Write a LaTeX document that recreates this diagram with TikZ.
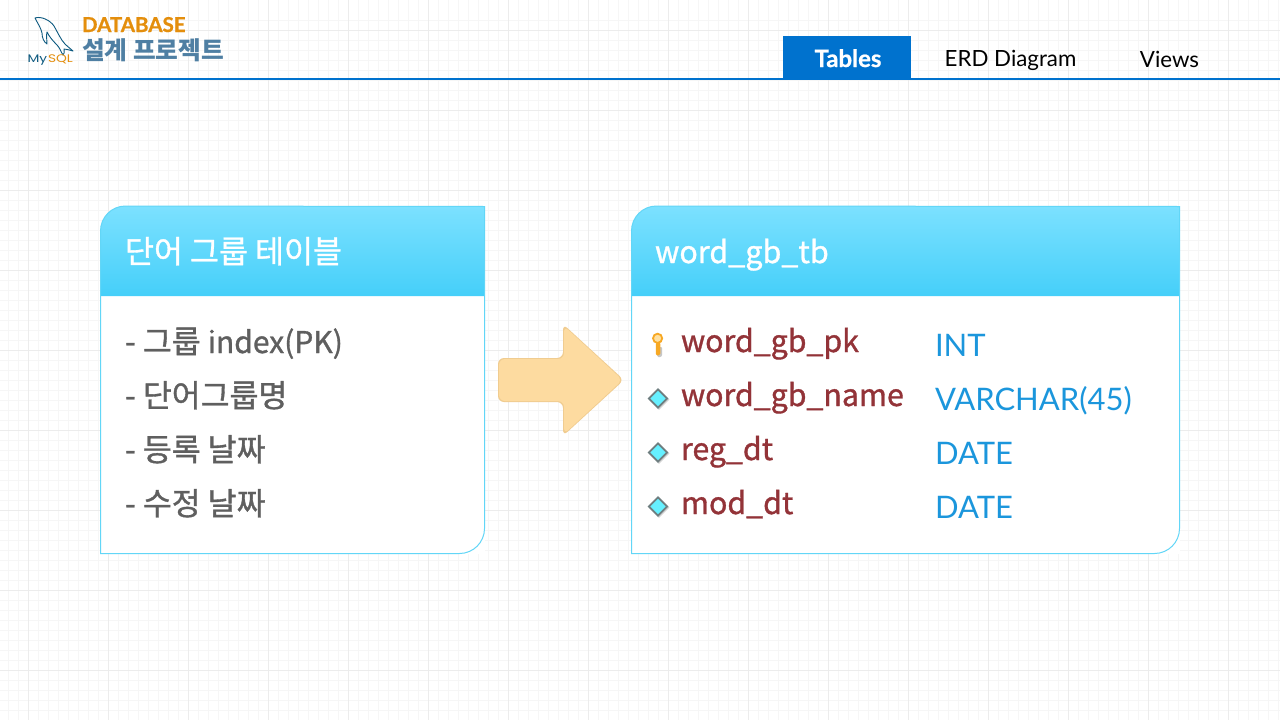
\documentclass[tikz,border=0pt]{standalone}
\usepackage{fontspec}
\setmainfont[FakeBold=1.1]{Noto Sans CJK KR}
\newfontfamily\brandfont{Noto Sans CJK KR}
\newfontfamily\tabfont{Lato}
\newfontfamily\tabbold[FakeBold=0.8]{Lato Bold}
\newfontfamily\logofont[FakeStretch=1.25]{Poppins}
\definecolor{gridminor}{HTML}{F6F6F6}
\usetikzlibrary{shapes.geometric}
\definecolor{gridmajor}{HTML}{ECECEC}
\definecolor{navblue}{HTML}{0072CE}
\definecolor{cardedge}{HTML}{62D6F7}
\definecolor{headtop}{HTML}{7CE1FF}
\definecolor{headbot}{HTML}{45CFF9}
\definecolor{arrowfill}{HTML}{FDDBA0}
\definecolor{arrowedge}{HTML}{F0CC90}
\definecolor{bodytext}{HTML}{5F5F5F}
\definecolor{fieldtext}{HTML}{933338}
\definecolor{typetext}{HTML}{1B96DC}
\definecolor{logoorange}{HTML}{E48E0C}
\definecolor{logoblue}{HTML}{4F7FA3}
\definecolor{dolphin}{HTML}{0E5A80}
\definecolor{keyorange}{HTML}{F7A823}
\definecolor{keylight}{HTML}{FFE0A0}
\definecolor{diamfill}{HTML}{66F0FF}
\definecolor{diamedge}{HTML}{6E7E80}
\tikzset{
  x=1pt,y=-1pt,
  lbl/.style={anchor=base west,inner sep=0pt,outer sep=0pt},
  rowtext/.style={lbl,text=bodytext,font=\fontsize{31.4}{31}\selectfont},
  headtext/.style={lbl,text=white,font=\fontsize{31.5}{31}\selectfont},
  fieldname/.style={lbl,text=fieldtext,font=\fontsize{30.3}{31}\selectfont},
  typename/.style={lbl,text=typetext,font=\tabfont\fontsize{31}{31}\selectfont},
  tablabel/.style={anchor=base,inner sep=0pt,text=black,font=\tabfont\fontsize{22.3}{24}\selectfont},
  attr/.style={diamond,aspect=1,minimum size=19pt,inner sep=0pt,draw=diamedge,line width=1.8pt,fill=diamfill},
  cardedgeline/.style={draw=cardedge,line width=1pt},
}
\begin{document}
\begin{tikzpicture}
\useasboundingbox (0,0) rectangle (1280,720);
\fill[white] (0,0) rectangle (1280,720);
% grid
\foreach \i in {-2,...,127}{\draw[gridminor,line width=1pt] ({28+10*\i},0) -- ({28+10*\i},720);}
\foreach \i in {-1,...,72}{\draw[gridminor,line width=1pt] (0,{30+10*\i}) -- (1280,{30+10*\i});}
\foreach \i in {0,...,15}{\draw[gridmajor,line width=1pt] ({28+80*\i},0) -- ({28+80*\i},720);}
\foreach \i in {0,...,8}{\draw[gridmajor,line width=1pt] (0,{30+80*\i}) -- (1280,{30+80*\i});}
% header
\fill[navblue] (0,78) rectangle (1280,80);
\node[fill=navblue,minimum width=128pt,minimum height=43pt,inner sep=0pt,anchor=north west] (tab1) at (783,36) {};
\node[tablabel,text=white,font=\tabbold\fontsize{24}{24}\selectfont] (tabA) at (848,67) {Tables};
\node[tablabel] (tabB) at (1010.5,66) {ERD Diagram};
\node[tablabel] (tabC) at (1169.5,67) {Views};
% logo
\draw[dolphin,line width=0.9pt,line join=round]
  (35,18) .. controls (41,16) and (50,20) .. (54,26)
  .. controls (58,33) and (61,40) .. (65,44)
  .. controls (68,47) and (71,49) .. (73,51)
  .. controls (69,50) and (66,49) .. (64,49)
  .. controls (65,52) and (64,54) .. (63,55)
  .. controls (61,52) and (60,48) .. (57,45)
  .. controls (52,40) and (49,36) .. (47,32)
  .. controls (46,36) and (47,40) .. (47,44)
  .. controls (44,42) and (42,38) .. (42,33)
  .. controls (41,28) and (38,24) .. (35,18) -- cycle;
\node[lbl,text=dolphin,font=\logofont\fontsize{11}{11}\selectfont] (logoA) at (27.5,62) {My};
\node[lbl,text=logoorange,font=\logofont\fontsize{11}{11}\selectfont] (logoB) at (48,62) {SQL};
\node[lbl,text=logoorange,font=\tabbold\fontsize{20.5}{22}\selectfont] (brandA) at (82,32) {DATABASE};
\node[lbl,text=logoblue,font=\brandfont\bfseries\fontsize{24.7}{25}\selectfont] (brandB) at (82,59) {설계 프로젝트};
% left card
\fill[white] (100.5,296) rectangle (484.5,553.5);
\path[top color=headtop,bottom color=headbot] (100.5,296) -- (100.5,231) arc[start angle=180,end angle=90,x radius=25,y radius=-25] -- (484.5,206) -- (484.5,296) -- cycle;
\draw[cardedgeline] (100.5,231) arc[start angle=180,end angle=90,x radius=25,y radius=-25] -- (484.5,206.5) -- (484.5,528.5) arc[start angle=0,end angle=-90,x radius=25,y radius=-25] -- (100.5,553.5) -- cycle;
\node[headtext] (leftTitle) at (125,263) {단어 그룹 테이블};
\node[rowtext] (l1) at (125,353) {- 그룹 {\fontsize{30}{31}\selectfont index(PK)}};
\node[rowtext] (l2) at (125,407) {- 단어그룹명};
\node[rowtext] (l3) at (125,461) {- 등록 날짜};
\node[rowtext] (l4) at (125,515) {- 수정 날짜};
% arrow
\fill[arrowedge,rounded corners=6pt] (498,358) -- (563,358) -- (563,324) -- (624,380) -- (563,436) -- (563,402) -- (498,402) -- cycle;
\fill[arrowfill,rounded corners=6pt] (499,359) -- (564,359) -- (564,326) -- (622.5,380) -- (564,434) -- (564,401) -- (499,401) -- cycle;
% right card
\fill[white] (631.5,296) rectangle (1179.5,553.5);
\path[top color=headtop,bottom color=headbot] (631.5,296) -- (631.5,231) arc[start angle=180,end angle=90,x radius=25,y radius=-25] -- (1179.5,206) -- (1179.5,296) -- cycle;
\draw[cardedgeline] (631.5,231) arc[start angle=180,end angle=90,x radius=25,y radius=-25] -- (1179.5,206.5) -- (1179.5,528.5) arc[start angle=0,end angle=-90,x radius=25,y radius=-25] -- (631.5,553.5) -- cycle;
\node[headtext,font=\fontsize{30.5}{31}\selectfont] (rightTitle) at (655,263) {word\_gb\_tb};
\node[fieldname] (f1) at (681,352) {word\_gb\_pk};
\node[fieldname] (f2) at (681,406) {word\_gb\_name};
\node[fieldname] (f3) at (681,460) {reg\_dt};
\node[fieldname] (f4) at (681,514) {mod\_dt};
\node[typename] (t1) at (935,356) {INT};
\node[typename] (t2) at (935,410) {VARCHAR(45)};
\node[typename] (t3) at (935,464) {DATE};
\node[typename] (t4) at (935,518) {DATE};
% key icon
\fill[gray!45,rounded corners=0.8pt] (657.2,347) -- (662,347) -- (662,356) -- (659,357.5) -- (657.2,356) -- cycle;
\fill[keyorange,rounded corners=0.8pt] (655.8,343) -- (660.4,343) -- (660.4,354) -- (658,355.8) -- (655.8,354.5) -- cycle;
\draw[keyorange,line width=1.8pt,fill=keylight] (657.6,338.3) circle[radius=4.6];
% attribute icons
\node[attr,draw=gray!35,fill=gray!35] (s2) at (659,399.5) {};
\node[attr,draw=gray!35,fill=gray!35] (s3) at (659,453.5) {};
\node[attr,draw=gray!35,fill=gray!35] (s4) at (659,507.5) {};
\node[attr] (d2) at (658,398.5) {};
\node[attr] (d3) at (658,452.5) {};
\node[attr] (d4) at (658,506.5) {};
\end{tikzpicture}
\end{document}
